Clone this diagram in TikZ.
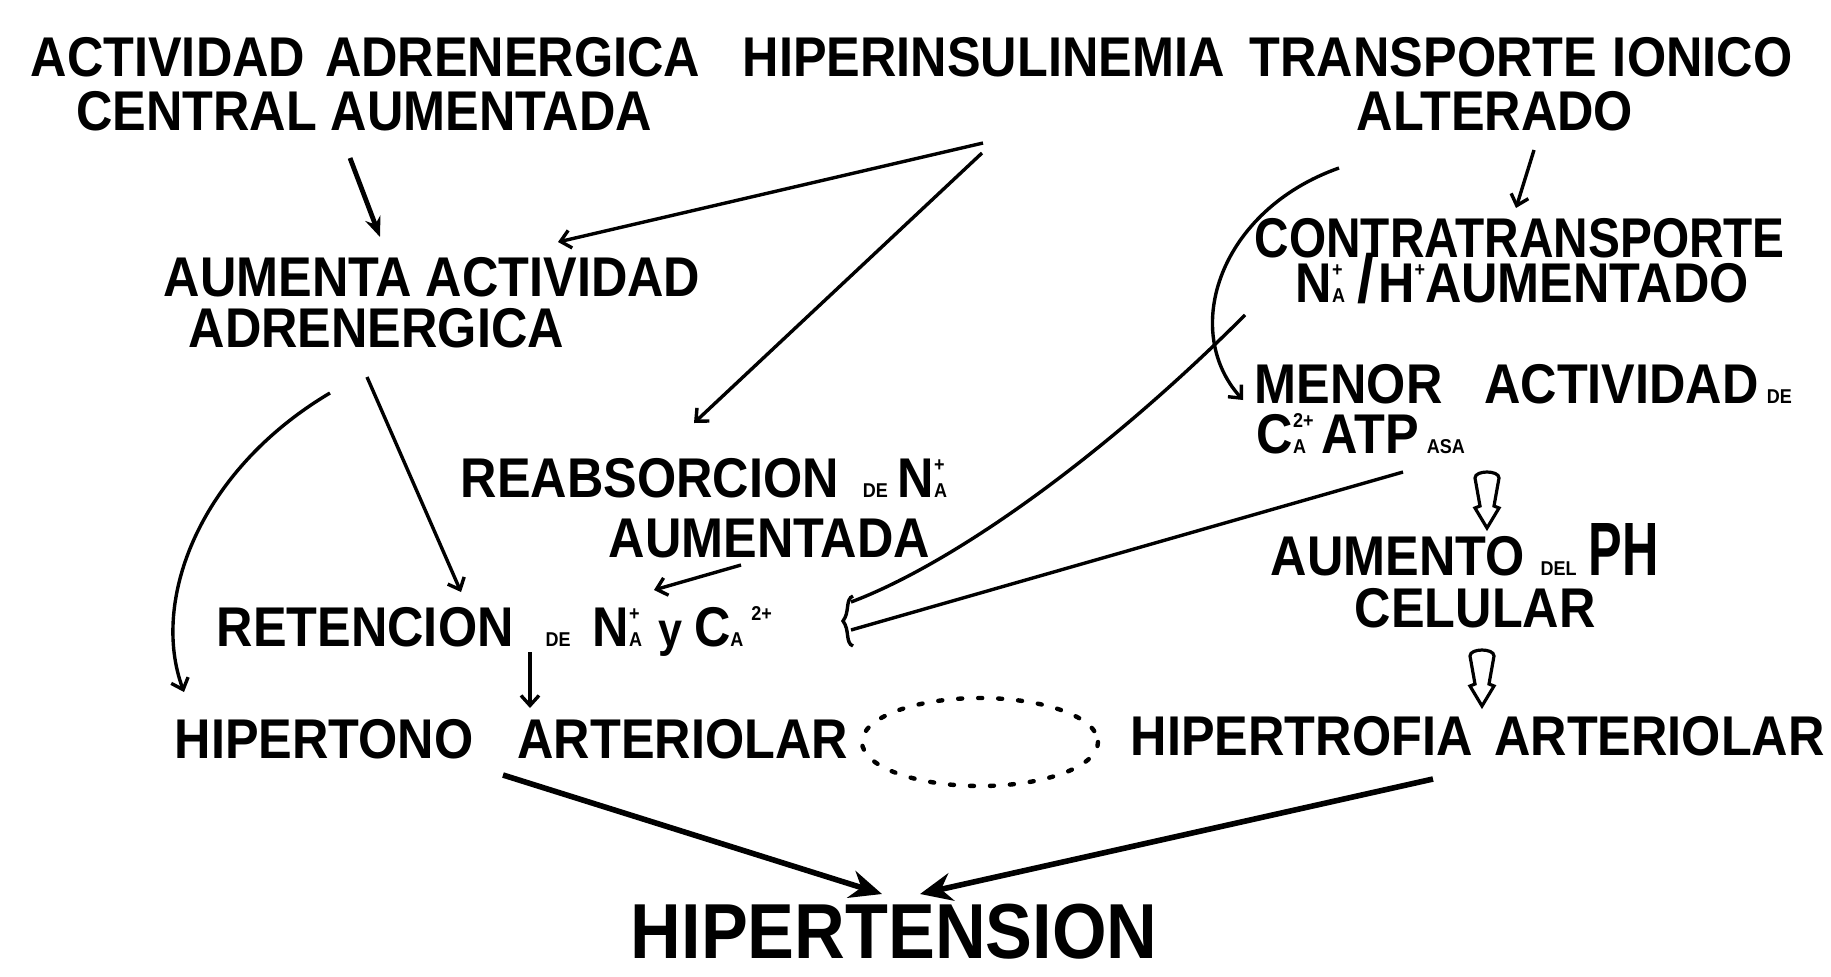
\documentclass[tikz,border=0pt]{standalone}
\usepackage{fontspec}
\usepackage{graphicx}
\newfontfamily\dfont{Liberation Sans}[FakeStretch=0.9]
\usetikzlibrary{arrows.meta}
\newcommand\sm[1]{{\fontsize{5}{5}\selectfont #1}}
\newcommand\stk[2]{\ooalign{\sm{#1}\cr\raisebox{6.5pt}{\sm{#2}}\cr}}
\newcommand\upr[1]{\raisebox{6.5pt}{\sm{#1}}}
\tikzset{
  lbl/.style={inner sep=0pt, anchor=base west, font=\dfont\bfseries\fontsize{14}{14}\selectfont},
  lblc/.style={lbl, anchor=base},
  bigl/.style={inner sep=0pt, anchor=base west, font=\dfont\bfseries\fontsize{19.5}{19.5}\selectfont},
  conn/.style={line width=0.85pt, -{Straight Barb[length=2.5pt,width=4.5pt]}},
  plain/.style={line width=0.85pt},
  bold/.style={line width=1.4pt, -{Stealth[length=8pt,width=7pt]}},
  harrow/.pic={\draw[line width=0.8pt, fill=white] (-12,6) .. controls (-12,-2) and (12,-2) .. (12,6) -- (7,34) -- (12,36) -- (0,56) -- (-12,36) -- (-7,34) -- cycle;}
}
\begin{document}
\begin{tikzpicture}[x=0.25pt,y=-0.25pt]
\fill[white] (0,0) rectangle (1831,976);
\useasboundingbox (0,0) rectangle (1831,976);
% text
\node[lbl] (act1) at (30,76) {ACTIVIDAD\hspace{5pt}ADRENERGICA};
\node[lblc] (act2) at (364,130) {CENTRAL AUMENTADA};
\node[lbl] (hip) at (742,76) {HIPERINSULINEMIA};
\node[lbl] (tra1) at (1249,76) {TRANSPORTE\hspace{4pt}IONICO};
\node[lblc] (tra2) at (1495,130) {ALTERADO};
\node[lbl] (aum1) at (163,296) {AUMENTA ACTIVIDAD};
\node[lbl] (aum2) at (188,347) {ADRENERGICA};
\node[lbl] (rea1) at (460,497) {REABSORCION\hspace{6pt}\sm{DE}\hspace{2.5pt}N\stk{A}{+}};
\node[lbl] (rea2) at (608,557) {AUMENTADA};
\node[lbl] (ret) at (216,646) {RETENCION\hspace{8pt}\sm{DE}\hspace{5.5pt}N\stk{A}{+}\hspace{4pt}{\fontsize{12}{12}\selectfont y}\hspace{3pt}C\sm{A}\hspace{2pt}\upr{2+}};
\node[lbl] (hto) at (174,758) {HIPERTONO\hspace{11pt}ARTERIOLAR};
\node[lbl] (con1) at (1254,257) {\scalebox{0.948}[1]{CONTRATRANSPORTE}};
\node[lbl] (con2) at (1295,302) {N\stk{A}{+}\hspace{3pt}{\fontsize{17}{17}\selectfont /}\hspace{1pt}H\upr{+}AUMENTADO};
\node[lbl] (men1) at (1254,403) {MENOR\hspace{10.5pt}ACTIVIDAD\hspace{2pt}\sm{DE}};
\node[lbl] (men2) at (1256,453) {C\stk{A}{2+}\hspace{2pt}ATP\hspace{2pt}\sm{ASA}};
\node[lbl] (ph1) at (1270,575) {AUMENTO\hspace{4pt}\sm{DEL}\hspace{3pt}\scalebox{1}[1.35]{PH}};
\node[lbl] (ph2) at (1354,627) {CELULAR};
\node[lbl] (htr) at (1130,755) {HIPERTROFIA\hspace{2pt} ARTERIOLAR};
\node[bigl] (hts) at (630,958) {HIPERTENSION};
% connector end points
\coordinate (a1) at (350,158); \coordinate (a2) at (380,237);
\coordinate (h0) at (983,143); \coordinate (h1) at (558,242);
\coordinate (h0b) at (982,153); \coordinate (h2) at (694,423);
\coordinate (c1) at (330,393); \coordinate (c2) at (184,692);
\coordinate (l1) at (367,377); \coordinate (l2) at (461,592);
\coordinate (r1) at (741,565); \coordinate (r2) at (654,590);
\coordinate (v1) at (530,652); \coordinate (v2) at (530,708);
\coordinate (t1) at (1339,168); \coordinate (t2) at (1243,400);
\coordinate (al1) at (1534,150); \coordinate (al2) at (1516,208);
\coordinate (k1) at (1245,315); \coordinate (k2) at (851,602);
\coordinate (m1) at (1403,472); \coordinate (m2) at (851,630);
\coordinate (o1) at (503,775); \coordinate (o2) at (882,894);
\coordinate (p1) at (1433,779); \coordinate (p2) at (920,894);
\coordinate (br1) at (853,596); \coordinate (br2) at (853,646);
% connectors
\draw[line width=1.2pt, -{Stealth[length=5pt,width=4pt]}] (a1) -- (a2);
\draw[conn] (h0) -- (h1);
\draw[conn] (h0b) -- (h2);
\draw[conn] (c1) .. controls (200,470) and (150,600) .. (c2);
\draw[conn] (l1) -- (l2);
\draw[conn] (r1) -- (r2);
\draw[conn] (v1) -- (v2);
\draw[conn] (t1) .. controls (1220,210) and (1180,330) .. (t2);
\draw[conn] (al1) -- (al2);
\draw[plain] (k1) .. controls (1100,460) and (950,565) .. (k2);
\draw[plain] (m1) -- (m2);
\draw[plain] (br1) .. controls (845,599) and (850,612) .. (843,621) .. controls (850,630) and (845,643) .. (br2);
\pic at (1487,472) {harrow};
\pic at (1482,650) {harrow};
\draw[bold] (o1) -- (o2);
\draw[bold] (p1) -- (p2);
\draw[line width=1.1pt, dash pattern=on 1pt off 4pt, line cap=round] (980,742) ellipse [x radius=118, y radius=44];
\end{tikzpicture}
\end{document}
